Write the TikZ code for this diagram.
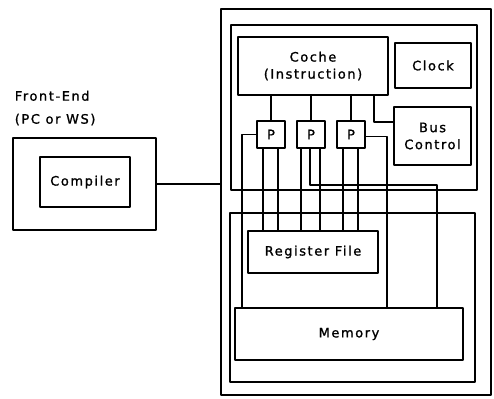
\documentclass[tikz,border=0pt]{standalone}
\usepackage{fontspec}
\setmainfont{DejaVu Sans}[LetterSpace=12,FakeBold=1.2]
\begin{document}
\begin{tikzpicture}[x=1pt,y=1pt,line width=1.6pt,line cap=round,line join=round,
		blk/.style={draw,inner sep=0pt,align=center,font=\fontsize{13}{17}\selectfont},
		proc/.style={blk,minimum width=28pt,minimum height=27pt}]
	\useasboundingbox (0,0) rectangle (494,398);
	% front end side
	\node[blk,minimum width=143pt,minimum height=92pt] (fe) at (84.5,214) {};
	\node[blk,minimum width=90pt,minimum height=50pt] (comp) at (85,216) {Compiler};
	\node[anchor=north west,inner sep=0pt,align=left,font=\fontsize{13}{23}\selectfont] (felbl) at (14,308) {Front-End\\(PC or WS)};
	% machine
	\node[blk,minimum width=270pt,minimum height=386pt] (host) at (356,196) {};
	\node[blk,minimum width=246pt,minimum height=165pt] (cpu) at (354,290.5) {};
	\node[blk,minimum width=245pt,minimum height=169pt] (mainmem) at (352.5,100.5) {};
	\node[blk,minimum width=150pt,minimum height=58pt] (cache) at (313,332) {Coche\\(Instruction)};
	\node[blk,minimum width=76pt,minimum height=45pt] (clock) at (433,332.5) {Clock};
	\node[blk,minimum width=77pt,minimum height=58pt] (bus) at (432.5,262) {Bus\\Control};
	\node[proc] (p1) at (271,263.5) {P};
	\node[proc] (p2) at (311,263.5) {P};
	\node[proc] (p3) at (351,263.5) {P};
	\node[blk,minimum width=130pt,minimum height=42pt] (rf) at (313,146) {Register File};
	\node[blk,minimum width=228pt,minimum height=52pt] (mem) at (349,64) {Memory};
	% links
	\draw (fe.east) -- (fe.east -| host.west);
	\draw (cache.south -| p1) -- (p1.north)
		(cache.south -| p2) -- (p2.north)
		(cache.south -| p3) -- (p3.north);
	\draw ([xshift=61pt]cache.south) |- ([yshift=14pt]bus.west);
	\draw (p1.west) -- ([xshift=-14pt]p1.west) -- ([xshift=-14pt]p1.west |- mem.north);
	\draw ([xshift=-8pt]p1.south) -- ([xshift=-8pt]p1.south |- rf.north)
		([xshift=7pt]p1.south) -- ([xshift=7pt]p1.south |- rf.north)
		([xshift=-10pt]p2.south) -- ([xshift=-10pt]p2.south |- rf.north)
		([xshift=9pt]p2.south) -- ([xshift=9pt]p2.south |- rf.north)
		([xshift=-8pt]p3.south) -- ([xshift=-8pt]p3.south |- rf.north)
		([xshift=7pt]p3.south) -- ([xshift=7pt]p3.south |- rf.north);
	\draw ([xshift=-1pt]p2.south) |- ([xshift=126pt,yshift=-36pt]p2.south) -- ([xshift=126pt]p2.south |- mem.north);
	\draw ([yshift=-2pt]p3.east) -| ([xshift=21pt]p3.east |- mem.north);
\end{tikzpicture}
\end{document}
